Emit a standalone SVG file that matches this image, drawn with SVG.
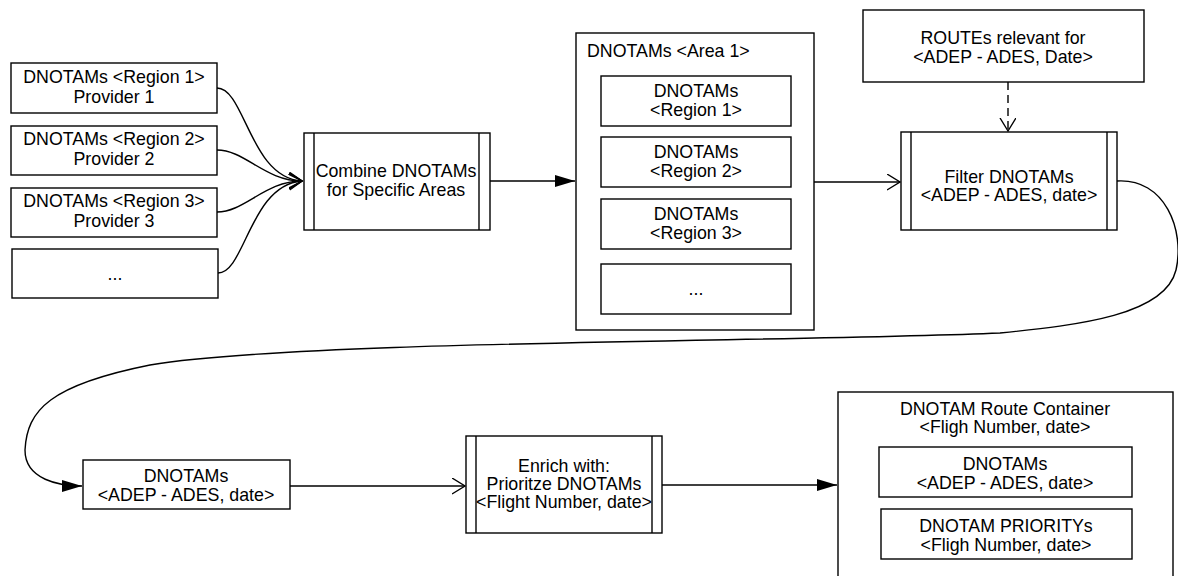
<svg xmlns="http://www.w3.org/2000/svg" width="1178" height="576" viewBox="0 0 1178 576">
<style>
.b{fill:#fff;stroke:#000;stroke-width:1.4}
.l{fill:none;stroke:#000;stroke-width:1.4}
.t{font-family:"Liberation Sans",Arial,sans-serif;font-size:17.8px;fill:#000;text-anchor:middle}
.ts{font-family:"Liberation Sans",Arial,sans-serif;font-size:17.8px;fill:#000}
</style>
<defs>
<marker id="fa" markerUnits="userSpaceOnUse" markerWidth="22" markerHeight="14" refX="20" refY="6" orient="auto"><path d="M0,0 L20,6 L0,12 z" fill="#000"/></marker>
<marker id="oa" markerUnits="userSpaceOnUse" markerWidth="16" markerHeight="18" refX="13" refY="8" orient="auto"><path d="M0,0 L13,8 L0,16" fill="none" stroke="#000" stroke-width="1.4"/></marker>
</defs>
<rect width="1178" height="576" fill="#fff"/>
<g id="connectors">
<path class="l" d="M217,88 C245,88 250,178 302,181" marker-end="url(#oa)"/>
<path class="l" d="M217,150 C245,150 265,181 302,181" marker-end="url(#oa)"/>
<path class="l" d="M217,212 C245,212 265,181 302,181" marker-end="url(#oa)"/>
<path class="l" d="M218,273 C245,273 250,185 302,181" marker-end="url(#oa)"/>
<path class="l" d="M490,181 L575,181" marker-end="url(#fa)"/>
<path class="l" d="M814,182 L900,182" marker-end="url(#oa)"/>
<path class="l" d="M1008,82 L1008,131" stroke-dasharray="8,5" marker-end="url(#oa)"/>
<path class="l" d="M1117,181 C1165,178 1185,230 1176,270 C1165,315 1080,325 1000,333 C800,342 300,340 150,365 C50,385 27,410 25,450 C25,480 60,486 82,486" marker-end="url(#fa)"/>
<path class="l" d="M290,486 L465,486" marker-end="url(#oa)"/>
<path class="l" d="M662,485 L837,485" marker-end="url(#fa)"/>
</g>
<g id="src1"><rect class="b" x="11" y="63" width="206" height="50"/><text class="t" x="114" y="83">DNOTAMs &lt;Region 1&gt;</text><text class="t" x="114" y="103">Provider 1</text></g>
<g id="src2"><rect class="b" x="11" y="126" width="206" height="49"/><text class="t" x="114" y="145">DNOTAMs &lt;Region 2&gt;</text><text class="t" x="114" y="165">Provider 2</text></g>
<g id="src3"><rect class="b" x="11" y="188" width="206" height="49"/><text class="t" x="114" y="207">DNOTAMs &lt;Region 3&gt;</text><text class="t" x="114" y="227">Provider 3</text></g>
<g id="src4"><rect class="b" x="12" y="249" width="206" height="49"/><text class="t" x="115" y="280">...</text></g>
<g id="combine"><rect class="b" x="304" y="133" width="186" height="97"/><line class="l" x1="314" y1="133" x2="314" y2="230"/><line class="l" x1="479" y1="133" x2="479" y2="230"/><text class="t" x="396" y="177">Combine DNOTAMs</text><text class="t" x="396" y="196">for Specific Areas</text></g>
<g id="area"><rect class="b" x="576" y="33" width="238" height="297"/><text class="ts" x="587" y="57">DNOTAMs &lt;Area 1&gt;</text>
<g id="area-r1"><rect class="b" x="601" y="76" width="190" height="50"/><text class="t" x="696" y="97">DNOTAMs</text><text class="t" x="696" y="116">&lt;Region 1&gt;</text></g>
<g id="area-r2"><rect class="b" x="601" y="137" width="190" height="50"/><text class="t" x="696" y="158">DNOTAMs</text><text class="t" x="696" y="177">&lt;Region 2&gt;</text></g>
<g id="area-r3"><rect class="b" x="601" y="199" width="190" height="50"/><text class="t" x="696" y="220">DNOTAMs</text><text class="t" x="696" y="239">&lt;Region 3&gt;</text></g>
<g id="area-r4"><rect class="b" x="601" y="264" width="190" height="50"/><text class="t" x="696" y="295">...</text></g>
</g>
<g id="routes"><rect class="b" x="863" y="10" width="281" height="72"/><text class="t" x="1003" y="44">ROUTEs relevant for</text><text class="t" x="1003" y="63">&lt;ADEP - ADES, Date&gt;</text></g>
<g id="filter"><rect class="b" x="901" y="132" width="216" height="98"/><line class="l" x1="911" y1="132" x2="911" y2="230"/><line class="l" x1="1107" y1="132" x2="1107" y2="230"/><text class="t" x="1009" y="183">Filter DNOTAMs</text><text class="t" x="1009" y="201">&lt;ADEP - ADES, date&gt;</text></g>
<g id="dnotams"><rect class="b" x="83" y="460" width="207" height="49"/><text class="t" x="186" y="482">DNOTAMs</text><text class="t" x="186" y="501">&lt;ADEP - ADES, date&gt;</text></g>
<g id="enrich"><rect class="b" x="466" y="436" width="196" height="97"/><line class="l" x1="476" y1="436" x2="476" y2="533"/><line class="l" x1="652" y1="436" x2="652" y2="533"/><text class="t" x="564" y="472">Enrich with:</text><text class="t" x="564" y="490">Prioritze DNOTAMs</text><text class="t" x="564" y="508">&lt;Flight Number, date&gt;</text></g>
<g id="container"><rect class="b" x="838" y="392" width="335" height="190"/><text class="t" x="1005" y="415">DNOTAM Route Container</text><text class="t" x="1005" y="433">&lt;Fligh Number, date&gt;</text>
<g id="cont-dnotams"><rect class="b" x="879" y="447" width="253" height="50"/><text class="t" x="1005" y="470">DNOTAMs</text><text class="t" x="1005" y="489">&lt;ADEP - ADES, date&gt;</text></g>
<g id="cont-prio"><rect class="b" x="881" y="509" width="251" height="50"/><text class="t" x="1006" y="532">DNOTAM PRIORITYs</text><text class="t" x="1006" y="551">&lt;Fligh Number, date&gt;</text></g>
</g>
</svg>
